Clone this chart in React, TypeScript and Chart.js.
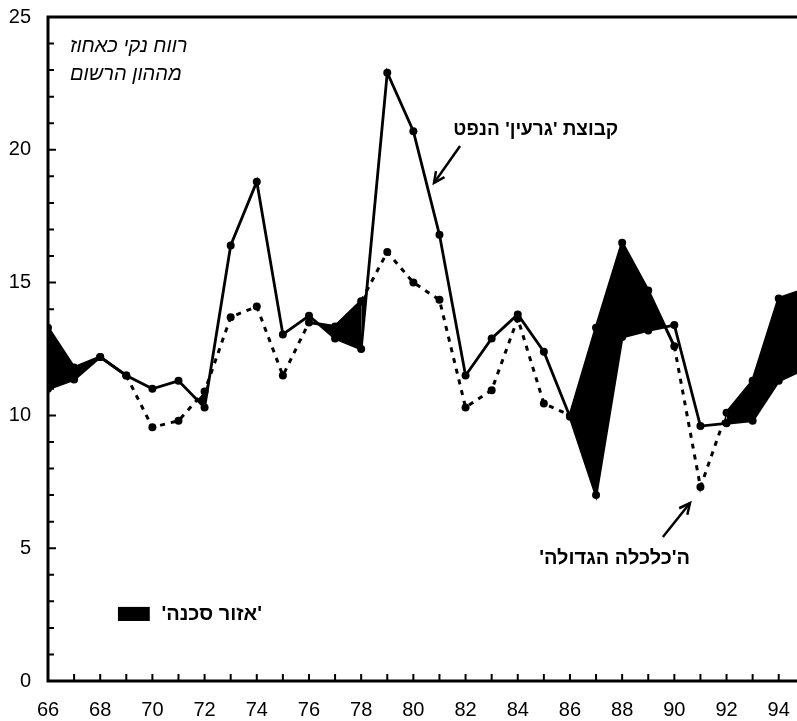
import React, { useEffect, useRef } from 'react';
import { Chart, registerables } from 'chart.js';

Chart.register(...registerables);

// Years (19xx)
const years = [66, 67, 68, 69, 70, 71, 72, 73, 74, 75, 76, 77, 78, 79, 80, 81, 82, 83, 84, 85, 86, 87, 88, 89, 90, 91, 92, 93, 94, 95];
// Solid line: oil core group
const oilCore = [11.0, 11.35, 12.2, 11.5, 11.0, 11.3, 10.3, 16.4, 18.8, 13.05, 13.75, 12.9, 12.5, 22.9, 20.7, 16.8, 11.5, 12.9, 13.8, 12.4, 9.95, 7.0, 12.95, 13.2, 13.4, 9.6, 9.7, 9.8, 11.3, 11.75];
// Dotted line: "big economy"
const bigEconomy = [13.3, 11.8, 12.2, 11.5, 9.55, 9.8, 10.9, 13.7, 14.1, 11.5, 13.5, 13.35, 14.3, 16.15, 15.0, 14.35, 10.3, 10.95, 13.65, 10.45, 10.0, 13.3, 16.5, 14.7, 12.6, 7.3, 10.1, 11.3, 14.4, 14.75];

const xMin = 66;
const xMax = 94.7;
const yMin = 0;
const yMax = 25;
const yStep = 5;

const titleLines = ['רווח נקי כאחוז', 'מההון הרשום'];
const oilLabel = "קבוצת 'גרעין' הנפט";
const econLabel = "ה'כלכלה הגדולה'";
const dangerLabel = "'אזור סכנה'";

const FONT = '"Liberation Sans", Arial, sans-serif';
const DASH = [5, 6];

function arrow(ctx: CanvasRenderingContext2D, x0: number, y0: number, x1: number, y1: number) {
  ctx.beginPath();
  ctx.moveTo(x0, y0);
  ctx.lineTo(x1, y1);
  ctx.stroke();
  const ang = Math.atan2(y1 - y0, x1 - x0);
  const L = 12;
  const spread = Math.PI / 7;
  ctx.beginPath();
  ctx.moveTo(x1 - L * Math.cos(ang - spread), y1 - L * Math.sin(ang - spread));
  ctx.lineTo(x1, y1);
  ctx.lineTo(x1 - L * Math.cos(ang + spread), y1 - L * Math.sin(ang + spread));
  ctx.stroke();
}

// dashed unless the "danger zone" covers most of the segment
function segmentDash(c: any) {
  const i0 = c.p0DataIndex;
  const i1 = c.p1DataIndex;
  const d0 = bigEconomy[i0] - oilCore[i0];
  const d1 = bigEconomy[i1] - oilCore[i1];
  if (d0 >= 0 && d1 >= 0) return [];
  if (d0 < 0 && d1 < 0) return DASH;
  const t = d0 / (d0 - d1);
  const covered = d0 >= 0 ? t : 1 - t;
  return covered > 0.5 ? [] : DASH;
}

const decor = {
  id: 'decor',
  afterDatasetsDraw(chart: any) {
    const { ctx, chartArea: a, scales } = chart;
    const x = scales.x;
    const y = scales.y;
    ctx.save();
    ctx.strokeStyle = '#000';
    ctx.fillStyle = '#000';
    ctx.lineWidth = 3;
    ctx.beginPath();
    ctx.moveTo(a.left - 1.5, a.top);
    ctx.lineTo(a.right, a.top);
    ctx.moveTo(a.left, a.top);
    ctx.lineTo(a.left, a.bottom + 1.5);
    ctx.moveTo(a.left - 1.5, a.bottom);
    ctx.lineTo(a.right, a.bottom);
    ctx.stroke();

    ctx.lineWidth = 2;
    ctx.beginPath();
    for (let v = yMin + 1; v < yMax; v++) {
      const py = y.getPixelForValue(v);
      const len = v % yStep === 0 ? 8 : 6;
      ctx.moveTo(a.left, py);
      ctx.lineTo(a.left + len, py);
    }
    for (const yr of years) {
      if (yr <= xMin || yr > xMax) continue;
      const px = x.getPixelForValue(yr);
      ctx.moveTo(px, a.bottom);
      ctx.lineTo(px, a.bottom - 7);
    }
    ctx.stroke();

    // annotations
    ctx.direction = 'rtl';
    ctx.textBaseline = 'middle';
    ctx.textAlign = 'left';
    ctx.font = `italic 20px ${FONT}`;
    ctx.fillText(titleLines[0], x.getPixelForValue(66.84), y.getPixelForValue(23.88));
    ctx.fillText(titleLines[1], x.getPixelForValue(66.84), y.getPixelForValue(22.82));

    ctx.textAlign = 'right';
    ctx.font = `bold 19px ${FONT}`;
    ctx.fillText(oilLabel, x.getPixelForValue(87.85), y.getPixelForValue(20.75));
    ctx.font = `bold 20px ${FONT}`;
    ctx.fillText(econLabel, x.getPixelForValue(90.6), y.getPixelForValue(4.63));
    ctx.fillText(dangerLabel, x.getPixelForValue(74.2), y.getPixelForValue(2.5));

    const rx0 = x.getPixelForValue(68.68);
    const rx1 = x.getPixelForValue(69.9);
    const ry0 = y.getPixelForValue(2.79);
    const ry1 = y.getPixelForValue(2.26);
    ctx.fillRect(rx0, ry0, rx1 - rx0, ry1 - ry0);

    ctx.lineWidth = 2.5;
    arrow(ctx, x.getPixelForValue(81.79), y.getPixelForValue(20.14), x.getPixelForValue(80.79), y.getPixelForValue(18.75));
    arrow(ctx, x.getPixelForValue(89.56), y.getPixelForValue(5.42), x.getPixelForValue(90.6), y.getPixelForValue(6.7));
    ctx.restore();
  },
};

export default function App() {
  const ref = useRef<HTMLCanvasElement | null>(null);

  useEffect(() => {
    if (!ref.current) return;
    const chart = new Chart(ref.current, {
      type: 'line',
      data: {
        datasets: [
          {
            label: oilLabel,
            data: years.map((yr, i) => ({ x: yr, y: oilCore[i] })),
            borderColor: '#000',
            backgroundColor: '#000',
            borderWidth: 2.8,
            pointRadius: 4,
            pointBackgroundColor: '#000',
            pointBorderWidth: 0,
            tension: 0,
            fill: false,
          },
          {
            label: econLabel,
            data: years.map((yr, i) => ({ x: yr, y: bigEconomy[i] })),
            borderColor: '#000',
            backgroundColor: '#000',
            borderWidth: 3,
            borderDash: DASH,
            segment: { borderDash: segmentDash },
            pointRadius: 4,
            pointBackgroundColor: '#000',
            pointBorderWidth: 0,
            tension: 0,
            fill: { target: 0, above: '#000', below: 'rgba(0,0,0,0)' },
          },
        ],
      },
      options: {
        animation: false,
        responsive: false,
        maintainAspectRatio: false,
        layout: { autoPadding: false, padding: { top: 17, right: 0, left: 0, bottom: 0 } },
        plugins: {
          legend: { display: false },
          tooltip: { enabled: false },
          title: { display: false },
        },
        scales: {
          x: {
            type: 'linear',
            min: xMin,
            max: xMax,
            grid: { display: false, drawTicks: false },
            border: { display: false },
            afterFit: (s: any) => {
              s.height = 40;
              s.paddingLeft = 0;
              s.paddingRight = 0;
            },
            afterBuildTicks: (s: any) => {
              s.ticks = years.filter((v) => v >= xMin && v <= xMax).map((v) => ({ value: v }));
            },
            ticks: {
              autoSkip: false,
              maxRotation: 0,
              padding: 17,
              color: '#000',
              font: { family: FONT, size: 20 },
              callback: (v: any) => (Number(v) % 2 === 0 ? String(v) : ''),
            },
          },
          y: {
            type: 'linear',
            min: yMin,
            max: yMax,
            grid: { display: false, drawTicks: false },
            border: { display: false },
            afterFit: (s: any) => {
              s.width = 48;
              s.paddingTop = 0;
              s.paddingBottom = 0;
            },
            ticks: {
              stepSize: yStep,
              padding: 17,
              color: '#000',
              font: { family: FONT, size: 20 },
            },
          },
        },
      },
      plugins: [decor],
    });
    return () => chart.destroy();
  }, []);

  return (
    <div style={{ position: 'absolute', left: 0, top: 0, width: 797, height: 721, background: '#fff' }}>
      <canvas ref={ref} width={797} height={721} style={{ display: 'block' }} />
    </div>
  );
}
